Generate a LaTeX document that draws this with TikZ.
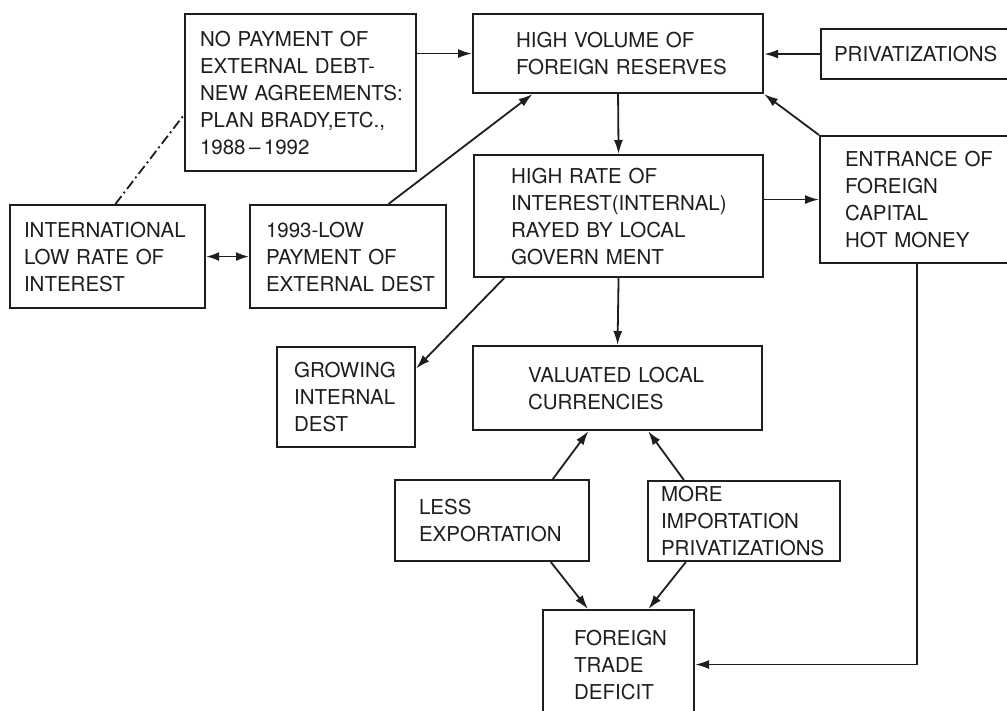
\documentclass[tikz,border=0pt]{standalone}
\usepackage{fontspec}
\setmainfont{TeX Gyre Heros}
\usetikzlibrary{arrows.meta,calc}
\definecolor{ink}{HTML}{1E1E1E}
\newcommand{\boxfont}{\fontsize{20.5}{27}\selectfont}
\tikzset{
  bx/.style n args={4}{draw=ink, line width=2.1pt, anchor=north west,
    minimum width=#1pt, minimum height=#2pt, inner xsep=#3pt, inner ysep=0pt,
    text width=#4pt, align=left, text=ink, font=\boxfont},
  conn/.style={draw=ink, line width=1.8pt, -{Latex[length=14pt,width=9pt]}},
  twoway/.style={draw=ink, line width=1.8pt, {Latex[length=13pt,width=9pt]}-{Latex[length=13pt,width=9pt]}},
  dashdot/.style={draw=ink, line width=1.8pt, dash pattern=on 10pt off 3.5pt on 2pt off 3.5pt}
}
\begin{document}
\hyphenpenalty=10000
\exhyphenpenalty=10000
\uchyph=0
\begin{tikzpicture}[x=1pt,y=-1pt]
\useasboundingbox (0,0) rectangle (1007,710);
\fill[white] (0,0) rectangle (1007,710);
\clip (0,0) rectangle (1007,710);

\node[bx={231}{157}{15}{201}] (nopay) at (184,13)
  {NO~PAYMENT~OF\\EXTERNAL~DEBT-\\NEW~AGREEMENTS:\\PLAN~BRADY,ETC.,\\1988\,\textendash\,1992};
\node[bx={195}{103}{14}{167}] (intl) at (9,204)
  {INTERNATIONAL\\LOW~RATE~OF\\INTEREST};
\node[bx={196}{103}{16}{164}] (low93) at (249,204)
  {1993-LOW\\PAYMENT~OF\\EXTERNAL~DEST};
\node[bx={290}{79}{43}{204}] (hivol) at (472,13)
  {HIGH~VOLUME~OF\\FOREIGN~RESERVES};
\node[bx={210}{50}{13}{184}] (priv) at (820,28)
  {PRIVATIZATIONS};
\node[bx={289}{122}{37}{215}] (hirate) at (473,154)
  {HIGH~RATE~OF\\INTEREST(INTERNAL)\\RAYED~BY~LOCAL\\GOVERN~MENT};
\node[bx={211}{127}{25}{161}] (entr) at (819,135)
  {ENTRANCE~OF\\FOREIGN\\CAPITAL\\HOT~MONEY};
\node[bx={138}{100}{17}{104}] (grow) at (276,346)
  {GROWING\\INTERNAL\\DEST};
\node[bx={289}{84}{55}{179}] (val) at (472,345)
  {VALUATED~LOCAL\\CURRENCIES};
\node[bx={194}{81}{24}{146}] (less) at (394,479)
  {LESS\\EXPORTATION};
\node[bx={192}{80}{13}{166}] (more) at (647,480)
  {MORE\\IMPORTATION\\PRIVATIZATIONS};
\node[bx={151}{109}{31}{89}] (ftd) at (542,609)
  {FOREIGN\\TRADE\\DEFICIT};

\draw[conn] (nopay.east |- hivol.west) -- (hivol.west);
\draw[conn] (priv.west) -- (priv.west -| hivol.east);
\draw[conn] (hivol.south) -- (hirate.north);
\draw[conn] (hirate.east |- entr.west) -- (entr.west);
\draw[conn] (entr.north west) -- (hivol.south east);
\draw[conn] ($(low93.north west)!0.704!(low93.north east)$) -- ($(hivol.south west)!0.207!(hivol.south east)$);
\draw[twoway] (intl.east) -- (low93.west);
\draw[dashdot] ($(intl.north west)!0.54!(intl.north east)$) -- ($(nopay.north west)!0.64!(nopay.south west)$);
\draw[conn] ($(hirate.south west)!0.107!(hirate.south east)$) -- ($(grow.north east)!0.22!(grow.south east)$);
\draw[conn] (hirate.south) -- (val.north);
\draw[conn] ($(less.north west)!0.81!(less.north east)$) -- ($(val.south west)!0.40!(val.south east)$);
\draw[conn] ($(more.north west)!0.19!(more.north east)$) -- ($(val.south west)!0.605!(val.south east)$);
\draw[conn] ($(less.south west)!0.80!(less.south east)$) -- ($(ftd.north west)!0.30!(ftd.north east)$);
\draw[conn] ($(more.south west)!0.20!(more.south east)$) -- ($(ftd.north west)!0.695!(ftd.north east)$);
\draw[conn] ($(entr.south west)!0.46!(entr.south east)$) |- (ftd.east);
\end{tikzpicture}
\end{document}
